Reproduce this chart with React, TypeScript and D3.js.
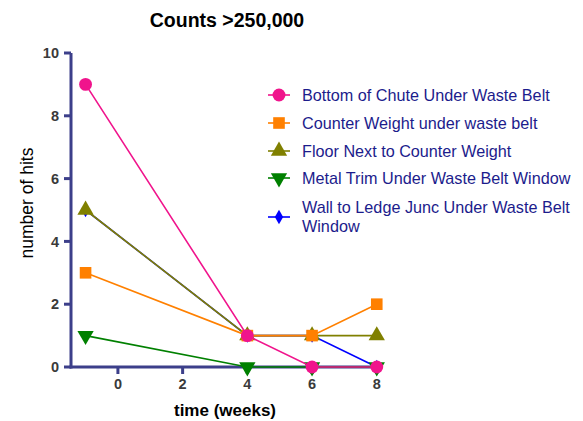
import React from "react";
import * as d3 from "d3";

const weeks = [-1, 4, 6, 8];
const seriesNames = [
  "Bottom of Chute Under Waste Belt",
  "Counter Weight under waste belt",
  "Floor Next to Counter Weight",
  "Metal Trim Under Waste Belt Window",
  "Wall to Ledge Junc Under Waste Belt Window",
];
const chute = [9, 1, 0, 0];
const counterWeight = [3, 1, 1, 2];
const floorNext = [5, 1, 1, 1];
const metalTrim = [1, 0, 0, 0];
const wallLedge = [5, 1, 1, 0];
const xTicks = [0, 2, 4, 6, 8];
const yTicks = [0, 2, 4, 6, 8, 10];

const colors = ["#f0148c", "#ff8000", "#808000", "#008000", "#0000ff"];
const shapes = [d3.symbolCircle, d3.symbolSquare, d3.symbolTriangle, d3.symbolTriangle, d3.symbolDiamond];
const sizes = [130, 135, 115, 115, 60];

const axisColor = "#3c3f8a";
const font = "Liberation Sans, Arial, sans-serif";

const Marker = ({ i, x, y }: { i: number; x: number; y: number }) => {
  const path = d3.symbol().type(shapes[i]).size(sizes[i])()!;
  const flip = i === 3 ? " rotate(180)" : "";
  return <path d={path} transform={`translate(${x},${y})${flip}`} fill={colors[i]} />;
};

export default function App() {
  const x = d3.scaleLinear().domain([-1.45, 8.1]).range([71, 380]);
  const y = d3.scaleLinear().domain([0, 10]).range([367, 53]);
  const values = [chute, counterWeight, floorNext, metalTrim, wallLedge];
  const line = d3
    .line<number>()
    .x((_, j) => x(weeks[j]))
    .y((d) => y(d));
  // first series sits on top, so draw it last
  const order = [4, 3, 2, 1, 0];
  const legendY = [95, 123, 151, 178, 217];

  return (
    <svg width={583} height={421} style={{ position: "absolute", left: 0, top: 0 }} fontFamily={font}>
      <text x={227} y={27} textAnchor="middle" fontSize={19.5} fontWeight="bold" fill="#000">
        Counts &gt;250,000
      </text>

      {/* axes */}
      <line x1={71} x2={71} y1={y(10)} y2={y(0) + 1.5} stroke={axisColor} strokeWidth={3} />
      <line x1={69.5} x2={x(8.1)} y1={y(0)} y2={y(0)} stroke={axisColor} strokeWidth={3} />
      {yTicks.map((t) => (
        <g key={t}>
          <line x1={64} x2={71} y1={y(t)} y2={y(t)} stroke={axisColor} strokeWidth={3} />
          <text x={59} y={y(t)} dy="0.36em" textAnchor="end" fontSize={14.5} fontWeight="bold" fill="#3a3a3a">
            {t}
          </text>
        </g>
      ))}
      {xTicks.map((t) => (
        <g key={t}>
          <line x1={x(t)} x2={x(t)} y1={y(0)} y2={y(0) + 7} stroke={axisColor} strokeWidth={3} />
          <text x={x(t)} y={389} textAnchor="middle" fontSize={14.5} fontWeight="bold" fill="#3a3a3a">
            {t}
          </text>
        </g>
      ))}
      <text x={225} y={416} textAnchor="middle" fontSize={17} fontWeight="bold" fill="#000">
        time (weeks)
      </text>
      <text transform={`translate(33,${203}) rotate(-90)`} textAnchor="middle" fontSize={17.5} fill="#000">
        number of hits
      </text>

      {/* series */}
      {order.map((i) => (
        <g key={i}>
          <path d={line(values[i])!} fill="none" stroke={colors[i]} strokeWidth={1.6} />
          {values[i].map((v, j) => (
            <Marker key={j} i={i} x={x(weeks[j])} y={y(v)} />
          ))}
        </g>
      ))}

      {/* legend */}
      {seriesNames.map((name, i) => (
        <g key={name}>
          <line x1={268} x2={290} y1={legendY[i]} y2={legendY[i]} stroke={colors[i]} strokeWidth={1.6} />
          <Marker i={i} x={279} y={legendY[i]} />
          {i < 4 ? (
            <text x={302} y={legendY[i]} dy="0.35em" fontSize={16.2} fill="#1c1c8c">
              {name}
            </text>
          ) : (
            <text x={302} y={legendY[i] - 10} dy="0.35em" fontSize={16.2} fill="#1c1c8c">
              <tspan x={302}>Wall to Ledge Junc Under Waste Belt</tspan>
              <tspan x={302} dy={19}>Window</tspan>
            </text>
          )}
        </g>
      ))}
    </svg>
  );
}
